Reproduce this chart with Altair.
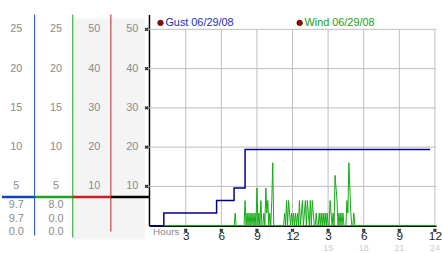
import altair as alt
import pandas as pd

FONT = "Liberation Sans"

# ---------------- data ----------------
hour_ticks = [3, 6, 9, 12, 15, 18, 21, 24]
hour_tick_labels = ["3", "6", "9", "12", "3", "6", "9", "12"]
hour_sub_ticks = [15, 18, 21, 24]
hour_sub_labels = ["15", "18", "21", "24"]
grid_levels = [5, 10, 15, 20, 25]

gust_hours = [0.0, 1.15, 5.6, 7.07, 8.0, 23.6]
gust_mph = [0.0, 1.6, 3.2, 4.8, 9.7, 9.7]

wind_start_hour = 7.0
wind_step_minutes = 5
wind_mph = [
    0, 0, 1.6, 0, 0, 0, 0, 0, 0, 0,
    0, 0, 3.2, 0, 1.6, 0, 1.6, 0, 1.6, 0,
    1.6, 0, 1.6, 0, 4.8, 0, 1.6, 0, 3.2, 0,
    0, 1.6, 0, 4.8, 1.6, 3.2, 0, 1.6, 0, 3.2,
    8.0, 0, 0, 0, 0, 0, 0, 0, 0, 0,
    0, 0, 1.6, 0, 3.2, 0, 3.2, 1.6, 0, 1.6,
    0, 1.6, 0, 1.6, 0, 1.6, 0, 3.2, 0, 1.6,
    3.2, 0, 1.6, 3.2, 0, 3.2, 1.6, 0, 3.2, 0,
    3.2, 1.6, 0, 0, 1.6, 0, 0, 1.6, 0, 1.6,
    0, 1.6, 0, 1.6, 0, 1.6, 0, 0, 3.2, 1.6,
    0, 1.6, 0, 6.4, 4.8, 3.2, 0, 1.6, 0, 1.6,
    0, 1.6, 0, 0, 0, 3.2, 1.6, 8.0, 4.8, 1.6,
    0, 0, 1.6, 0,
]
day_start_hour = 0.0
day_end_hour = 24.0

legend_names = ["Gust 06/29/08", "Wind 06/29/08"]
legend_hours = [0.87, 12.6]
legend_level = 25.82
legend_text_colors = ["#1a2fb8", "#14a014"]

# left scale panel
scale_levels = [25, 20, 15, 10, 5]
gust_scale_labels = ["25", "20", "15", "10", "5"]
wind_scale_labels = ["25", "20", "15", "10", "5"]
col3_scale_labels = ["50", "40", "30", "20", "10"]
col4_scale_labels = ["50", "40", "30", "20", "10"]
gust_readout = ["9.7", "9.7", "0.0"]
wind_readout = ["8.0", "0.0", "0.0"]
cursor_level = 3.65

# ---------------- layout helpers ----------------
Y_TOP = 26.884
y_scale = alt.Scale(domain=[0, Y_TOP], nice=False, zero=False)
left_x = alt.Scale(domain=[-0.857, 3.0], nice=False, zero=False)
main_x = alt.Scale(domain=[-0.1, 24.1], nice=False, zero=False)

col_label_pos = [-0.48, 0.56, 1.563, 2.56]
divider_pos = [0, 1, 2]
divider_colors = ["#1144bb", "#22a022", "#bb2222"]
divider_bottom = [-1.26, -1.5, -0.75]
seg_start = [-0.857, 0, 1, 2]
seg_end = [0, 1, 2, 3]
seg_colors = ["#1144bb", "#22a022", "#cc1f1f", "#000000"]
readout_dy = [-21, -7, 6]
ytick_marker_hour = -0.3   # just left of the main axis line
xtick_marker_level = -0.6  # just below the baseline

# ---------------- left panel ----------------
bg = alt.Chart(pd.DataFrame({"x": [1.0], "x2": [2.897], "y": [-1.76], "y2": [26.38]})).mark_rect(
    color="#f4f4f4"
).encode(
    x=alt.X("x:Q", scale=left_x, axis=None),
    x2="x2:Q",
    y=alt.Y("y:Q", scale=y_scale, axis=None),
    y2="y2:Q",
)

div_df = pd.DataFrame({"x": divider_pos, "c": divider_colors, "yb": divider_bottom, "yt": [Y_TOP] * 3})
dividers = alt.Chart(div_df).mark_rule(strokeWidth=1).encode(
    x=alt.X("x:Q", scale=left_x, axis=None),
    y=alt.Y("yb:Q", scale=y_scale, axis=None),
    y2="yt:Q",
    color=alt.Color("c:N", scale=None),
)

seg_df = pd.DataFrame({"x": seg_start, "x2": seg_end, "c": seg_colors, "y": [cursor_level] * 4})
cursor = alt.Chart(seg_df).mark_rule(strokeWidth=2.5).encode(
    x=alt.X("x:Q", scale=left_x, axis=None),
    x2="x2:Q",
    y=alt.Y("y:Q", scale=y_scale, axis=None),
    color=alt.Color("c:N", scale=None),
)

lab_rows = []
for pos, labels in zip(col_label_pos, [gust_scale_labels, wind_scale_labels, col3_scale_labels, col4_scale_labels]):
    for lvl, t in zip(scale_levels, labels):
        lab_rows.append({"x": pos, "y": lvl, "t": t})
scale_text = alt.Chart(pd.DataFrame(lab_rows)).mark_text(
    font=FONT, fontSize=11, color="#8a8a8a", align="center", baseline="middle"
).encode(
    x=alt.X("x:Q", scale=left_x, axis=None),
    y=alt.Y("y:Q", scale=y_scale, axis=None),
    text="t:N",
)

readout_layers = []
for r, dy in enumerate(readout_dy):
    rdf = pd.DataFrame({"x": col_label_pos[:2], "t": [gust_readout[r], wind_readout[r]]})
    readout_layers.append(
        alt.Chart(rdf).mark_text(
            font=FONT, fontSize=11, color="#8a8a8a", align="center", baseline="middle", dy=dy
        ).encode(
            x=alt.X("x:Q", scale=left_x, axis=None),
            y=alt.YDatum(0, scale=y_scale, axis=None),
            text="t:N",
        )
    )

left = alt.layer(bg, dividers, cursor, scale_text, *readout_layers).properties(width=149, height=214)

# ---------------- main panel ----------------
x_axis = alt.Axis(
    values=hour_ticks,
    labelExpr="datum.value > 12 ? format(datum.value - 12, 'd') : format(datum.value, 'd')",
    ticks=False,
    grid=False,
    domainColor="#000000",
    domainWidth=1.5,
    labelFont=FONT,
    labelFontSize=12,
    labelColor="#222222",
    labelPadding=5,
    labelFlush=False,
    labelOverlap=False,
    title=None,
)
y_axis = alt.Axis(
    labels=False, ticks=False, grid=False, domainColor="#000000", domainWidth=1.5, title=None
)

hgrid = alt.Chart(pd.DataFrame({"lvl": grid_levels})).mark_rule(color="#bdbdbd", strokeWidth=1).encode(
    y=alt.Y("lvl:Q", scale=y_scale, axis=y_axis)
)
vgrid = alt.Chart(pd.DataFrame({"h": hour_ticks})).mark_rule(color="#bdbdbd", strokeWidth=1).encode(
    x=alt.X("h:Q", scale=main_x, axis=x_axis),
    y=alt.YDatum(0, scale=y_scale),
    y2=alt.Y2Datum(25),
)

wind_hours = [day_start_hour] + [wind_start_hour + i * wind_step_minutes / 60 for i in range(len(wind_mph))] + [day_end_hour]
wind_vals = [0] + wind_mph + [0]
wind_line = alt.Chart(pd.DataFrame({"h": wind_hours, "mph": wind_vals})).mark_line(
    color="#11aa11", strokeWidth=1
).encode(
    x=alt.X("h:Q", scale=main_x),
    y=alt.Y("mph:Q", scale=y_scale),
)
gust_line = alt.Chart(pd.DataFrame({"h": gust_hours, "mph": gust_mph})).mark_line(
    color="#000090", strokeWidth=1.5, interpolate="step-after"
).encode(
    x=alt.X("h:Q", scale=main_x),
    y=alt.Y("mph:Q", scale=y_scale),
)

ytick_glyphs = alt.Chart(pd.DataFrame({"lvl": grid_levels})).mark_point(
    shape="cross", angle=45, size=16, filled=True, color="#333333", opacity=1
).encode(
    x=alt.XDatum(ytick_marker_hour, scale=main_x),
    y=alt.Y("lvl:Q", scale=y_scale),
)
xtick_glyphs = alt.Chart(pd.DataFrame({"h": hour_ticks})).mark_point(
    shape="cross", angle=45, size=16, filled=True, color="#333333", opacity=1
).encode(
    x=alt.X("h:Q", scale=main_x),
    y=alt.YDatum(xtick_marker_level, scale=y_scale),
)
sub_labels = alt.Chart(pd.DataFrame({"h": hour_sub_ticks, "t": hour_sub_labels})).mark_text(
    font=FONT, fontSize=9, color="#cccccc", dy=22.5, align="center", baseline="middle"
).encode(
    x=alt.X("h:Q", scale=main_x),
    y=alt.YDatum(0, scale=y_scale),
    text="t:N",
)
hours_title = alt.Chart(pd.DataFrame({"t": ["Hours"]})).mark_text(
    font=FONT, fontSize=10, color="#888888", dx=3, dy=6, align="left", baseline="middle"
).encode(
    x=alt.XDatum(0, scale=main_x),
    y=alt.YDatum(0, scale=y_scale),
    text="t:N",
)

leg_df = pd.DataFrame({"h": legend_hours, "name": legend_names, "lvl": [legend_level] * 2})
leg_dots = alt.Chart(leg_df).mark_circle(size=30, color="#a00000", stroke="#300000", strokeWidth=0.8, opacity=1).encode(
    x=alt.X("h:Q", scale=main_x),
    y=alt.Y("lvl:Q", scale=y_scale),
)
leg_text = alt.Chart(leg_df).mark_text(font=FONT, fontSize=11, dx=5, align="left", baseline="middle").encode(
    x=alt.X("h:Q", scale=main_x),
    y=alt.Y("lvl:Q", scale=y_scale),
    text="name:N",
    color=alt.Color("name:N", scale=alt.Scale(domain=legend_names, range=legend_text_colors), legend=None),
)

main = alt.layer(
    hgrid, vgrid, wind_line, gust_line, ytick_glyphs, xtick_glyphs, sub_labels, hours_title, leg_dots, leg_text
).properties(width=291, height=214)

chart = alt.hconcat(left, main, spacing=0, bounds="flush").properties(
    padding={"left": 0, "top": 12, "right": 0, "bottom": 0}
).configure_view(strokeWidth=0)

chart.save("out.html", embed_options={"renderer": "svg", "actions": False})
